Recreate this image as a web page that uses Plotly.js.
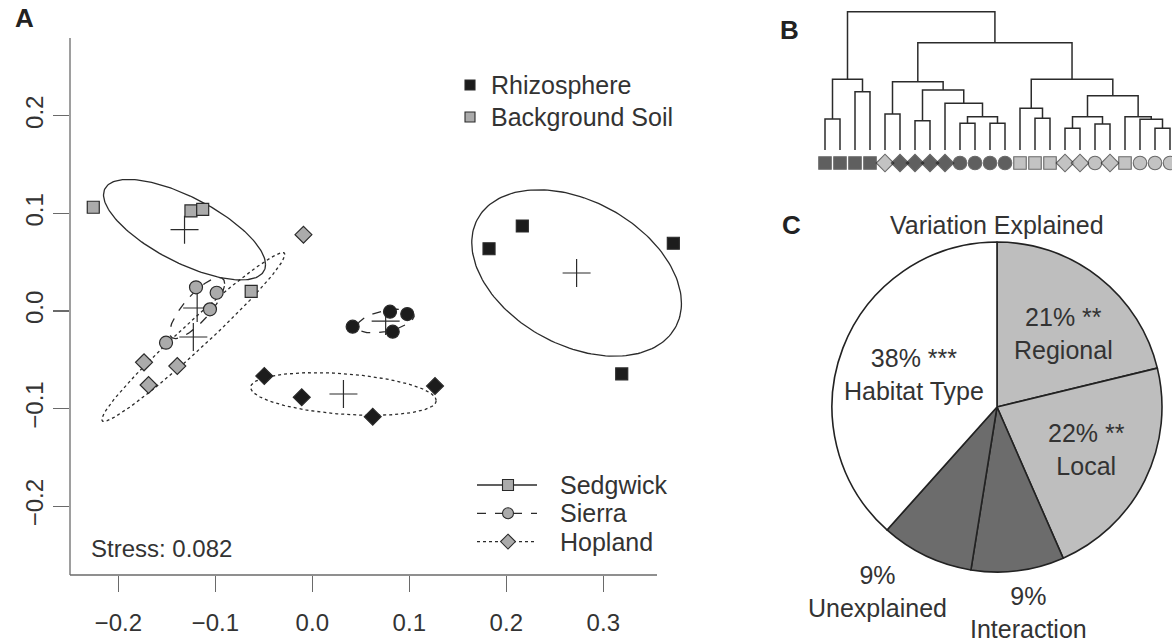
<!DOCTYPE html>
<html><head><meta charset="utf-8">
<script src="https://cdn.plot.ly/plotly-3.0.1.min.js"></script>
<style>html,body{margin:0;padding:0;background:#fff}#chart{width:1172px;height:641px}</style>
</head><body><div id="chart"></div>
<script>
// ---------- Panel A: NMDS ordination ----------
const siteNames = ["Sedgwick", "Sierra", "Hopland"];
const habitatNames = ["Rhizosphere", "Background Soil"];

const sedgwickRhizoX = [0.2165, 0.1822, 0.3722, 0.3190];
const sedgwickRhizoY = [0.0871, 0.0638, 0.0694, -0.0645];
const sierraRhizoX   = [0.0416, 0.0801, 0.0979, 0.0829];
const sierraRhizoY   = [-0.0161, -0.0007, -0.0031, -0.0212];
const hoplandRhizoX  = [-0.0495, -0.0109, 0.0623, 0.1265];
const hoplandRhizoY  = [-0.0666, -0.0884, -0.1083, -0.0768];
const sedgwickSoilX  = [-0.2258, -0.1251, -0.1130, -0.0630];
const sedgwickSoilY  = [0.1063, 0.1025, 0.1042, 0.0202];
const sierraSoilX    = [-0.1199, -0.0986, -0.1055, -0.1508];
const sierraSoilY    = [0.0243, 0.0187, 0.0017, -0.0325];
const hoplandSoilX   = [-0.0091, -0.1735, -0.1392, -0.1688];
const hoplandSoilY   = [0.0782, -0.0526, -0.0564, -0.0758];

const stressValue = 0.082;
const xTickVals = [-0.2, -0.1, 0.0, 0.1, 0.2, 0.3];
const yTickVals = [-0.2, -0.1, 0.0, 0.1, 0.2];

// ---------- Panel B: dendrogram (hclust-style merges) ----------
const leafSite = ["Sedgwick","Sedgwick","Sedgwick","Sedgwick","Hopland","Hopland","Hopland","Hopland","Hopland",
  "Sierra","Sierra","Sierra","Sierra","Sedgwick","Sedgwick","Sedgwick","Hopland","Hopland","Sierra","Hopland",
  "Sedgwick","Sierra","Sierra","Sierra"];
const leafHabitat = ["Rhizosphere","Rhizosphere","Rhizosphere","Rhizosphere","Background Soil",
  "Rhizosphere","Rhizosphere","Rhizosphere","Rhizosphere","Rhizosphere","Rhizosphere","Rhizosphere","Rhizosphere",
  "Background Soil","Background Soil","Background Soil","Background Soil","Background Soil","Background Soil",
  "Background Soil","Background Soil","Background Soil","Background Soil","Background Soil"];
const mergeLeft   = [-17, -23, -19, -10, -12, -7, -22, -1, -15, 4, 1, -21, -5, -14, -9, 11, -3, 6, 13, 8, 14, 19, 20];
const mergeRight  = [-18, -24, -20, -11, -13, -8, 2, -2, -16, 5, 3, 7, -6, 9, 10, 12, -4, 15, 18, 17, 16, 21, 22];
const mergeHeight = [0.217, 0.217, 0.26, 0.267, 0.267, 0.293, 0.307, 0.31, 0.317, 0.333, 0.333, 0.333, 0.36,
  0.417, 0.467, 0.543, 0.583, 0.60, 0.683, 0.707, 0.707, 1.073, 1.383];

// ---------- Panel C: variance partitioning ----------
const pieLabels = ["Regional", "Local", "Interaction", "Unexplained", "Habitat Type"];
const pieValues = [21, 22, 9, 9, 38];
const pieStars  = ["**", "**", "", "", "***"];

// ---------- styling ----------
const FONT = '"Liberation Sans", Arial, Helvetica, sans-serif';
const TXT = '#333333';
const LINE = '#2b2b2b';
const W = 1172, H = 641;
const px = v => v / W, py = v => 1 - v / H;
const fillFor = h => h === "Rhizosphere" ? '#1c1c1c' : '#ababab';
const symFor = s => ({Sedgwick: 'square', Sierra: 'circle', Hopland: 'diamond'})[s];
const sizeFor = s => ({Sedgwick: 12, Sierra: 13, Hopland: 13})[s];
const dashFor = s => ({Sedgwick: 'solid', Sierra: 'dash', Hopland: 'dot'})[s];

const groups = [
  {site: "Sedgwick", hab: "Rhizosphere", x: sedgwickRhizoX, y: sedgwickRhizoY},
  {site: "Sierra", hab: "Rhizosphere", x: sierraRhizoX, y: sierraRhizoY},
  {site: "Hopland", hab: "Rhizosphere", x: hoplandRhizoX, y: hoplandRhizoY},
  {site: "Sedgwick", hab: "Background Soil", x: sedgwickSoilX, y: sedgwickSoilY},
  {site: "Sierra", hab: "Background Soil", x: sierraSoilX, y: sierraSoilY},
  {site: "Hopland", hab: "Background Soil", x: hoplandSoilX, y: hoplandSoilY}
];

const mean = a => a.reduce((s, v) => s + v, 0) / a.length;
// 95% standard-error ellipse (as vegan::ordiellipse kind="se")
function seEllipse(xs, ys) {
  const n = xs.length, mx = mean(xs), my = mean(ys);
  let sxx = 0, syy = 0, sxy = 0;
  for (let i = 0; i < n; i++) {
    sxx += (xs[i] - mx) ** 2; syy += (ys[i] - my) ** 2; sxy += (xs[i] - mx) * (ys[i] - my);
  }
  sxx /= (n - 1) * n; syy /= (n - 1) * n; sxy /= (n - 1) * n;
  const scale = Math.sqrt(-2 * Math.log(0.05));
  const l11 = Math.sqrt(sxx), l21 = sxy / l11, l22 = Math.sqrt(Math.max(syy - l21 * l21, 0));
  const ex = [], ey = [];
  for (let k = 0; k <= 180; k++) {
    const t = 2 * Math.PI * k / 180, c = Math.cos(t), s = Math.sin(t);
    ex.push(mx + scale * l11 * c);
    ey.push(my + scale * (l21 * c + l22 * s));
  }
  return {ex, ey, mx, my};
}

const traces = [];
const cx = [], cy = [];
groups.forEach(g => {
  const e = seEllipse(g.x, g.y);
  cx.push(e.mx); cy.push(e.my);
  traces.push({type: 'scatter', mode: 'lines', x: e.ex, y: e.ey, xaxis: 'x', yaxis: 'y',
    line: {color: LINE, width: 1.3, dash: dashFor(g.site)}, showlegend: false, hoverinfo: 'skip'});
});
traces.push({type: 'scatter', mode: 'markers', x: cx, y: cy, xaxis: 'x', yaxis: 'y', showlegend: false,
  marker: {symbol: 'cross-thin', size: 20, color: LINE, line: {color: LINE, width: 1.2}}});
groups.forEach(g => {
  traces.push({type: 'scatter', mode: 'markers', x: g.x, y: g.y, xaxis: 'x', yaxis: 'y', showlegend: false,
    marker: {symbol: symFor(g.site), size: sizeFor(g.site), color: fillFor(g.hab), line: {color: '#2a2a2a', width: 1.2}}});
});

// dendrogram
(function () {
  const pos = [], ht = [], dx = [], dy = [];
  const cX = c => c < 0 ? -c : pos[c - 1];
  const cH = c => c < 0 ? 0 : ht[c - 1];
  for (let i = 0; i < mergeHeight.length; i++) {
    const L = mergeLeft[i], R = mergeRight[i], h = mergeHeight[i];
    const xl = cX(L), xr = cX(R);
    dx.push(xl, xl, xr, xr, null);
    dy.push(cH(L), h, h, cH(R), null);
    pos[i] = (xl + xr) / 2; ht[i] = h;
  }
  traces.push({type: 'scatter', mode: 'lines', x: dx, y: dy, xaxis: 'x2', yaxis: 'y2', showlegend: false,
    line: {color: LINE, width: 1.5}, hoverinfo: 'skip'});
  const lx = leafSite.map((_, i) => i + 1);
  traces.push({type: 'scatter', mode: 'markers', x: lx, y: lx.map(() => -0.13), xaxis: 'x2', yaxis: 'y2',
    showlegend: false,
    marker: {symbol: leafSite.map(symFor), size: leafSite.map(s => s === 'Sedgwick' ? 12.5 : 13.5),
      color: leafHabitat.map(fillFor), line: {color: '#2a2a2a', width: 1.1}}});
})();

// pie
traces.push({type: 'pie', labels: pieLabels, values: pieValues, sort: false, direction: 'clockwise', rotation: 0,
  textinfo: 'none', hoverinfo: 'label+percent', showlegend: false,
  marker: {colors: ['#bebebe', '#bebebe', '#6c6c6c', '#6c6c6c', '#ffffff'], line: {color: '#222', width: 1.6}},
  domain: {x: [px(832), px(1162)], y: [py(572), py(242)]}});

// axis geometry (pixel positions of the plot region and L-shaped box)
const xPix = [70, 700], yPix = [575, 38], boxRight = 657;
const xData = p => (p - 312.3) / 970, yData = p => (311 - p) / 976;

const pieLabelPos = [[1063, 333], [1086, 450], [1028, 612], [877, 591], [914, 374]];
const annotations = pieLabels.map((l, i) => ({
  xref: 'paper', yref: 'paper', x: px(pieLabelPos[i][0]), y: py(pieLabelPos[i][1]),
  xanchor: 'center', yanchor: 'middle', showarrow: false,
  text: pieValues[i] + '%' + (pieStars[i] ? ' ' + pieStars[i] : '') + '<br>' + l,
  font: {family: FONT, size: 25, color: TXT}
}));
annotations.push(
  {xref: 'paper', yref: 'paper', x: px(13), y: py(18), xanchor: 'left', yanchor: 'middle', showarrow: false,
    text: '<b>A</b>', font: {family: FONT, size: 26, color: '#222'}},
  {xref: 'paper', yref: 'paper', x: px(778), y: py(30), xanchor: 'left', yanchor: 'middle', showarrow: false,
    text: '<b>B</b>', font: {family: FONT, size: 26, color: '#222'}},
  {xref: 'paper', yref: 'paper', x: px(780), y: py(225), xanchor: 'left', yanchor: 'middle', showarrow: false,
    text: '<b>C</b>', font: {family: FONT, size: 26, color: '#222'}},
  {xref: 'paper', yref: 'paper', x: px(997), y: py(225), xanchor: 'center', yanchor: 'middle', showarrow: false,
    text: 'Variation Explained', font: {family: FONT, size: 25, color: TXT}},
  {xref: 'paper', yref: 'paper', x: px(89), y: py(548), xanchor: 'left', yanchor: 'middle', showarrow: false,
    text: 'Stress: ' + stressValue.toFixed(3), font: {family: FONT, size: 24, color: TXT}}
);

// legends drawn as layout glyphs + text
const shapes = [];
const BOXC = '#6a6a6a';
shapes.push({type: 'line', xref: 'paper', yref: 'paper', x0: px(xPix[0]), x1: px(xPix[0]), y0: py(yPix[0]), y1: py(yPix[1]),
  line: {color: BOXC, width: 1.3}});
shapes.push({type: 'line', xref: 'paper', yref: 'paper', x0: px(xPix[0]), x1: px(boxRight), y0: py(yPix[0]), y1: py(yPix[0]),
  line: {color: BOXC, width: 1.3}});

function glyph(sym, cxp, cyp, r, fill) {
  const common = {xref: 'paper', yref: 'paper', fillcolor: fill, line: {color: '#2a2a2a', width: 1.1}};
  if (sym === 'square') return Object.assign(common, {type: 'rect', x0: px(cxp - r), x1: px(cxp + r), y0: py(cyp + r), y1: py(cyp - r)});
  if (sym === 'circle') return Object.assign(common, {type: 'circle', x0: px(cxp - r), x1: px(cxp + r), y0: py(cyp + r), y1: py(cyp - r)});
  const d = r * 1.35;
  return Object.assign(common, {type: 'path',
    path: `M ${px(cxp)} ${py(cyp - d)} L ${px(cxp + d)} ${py(cyp)} L ${px(cxp)} ${py(cyp + d)} L ${px(cxp - d)} ${py(cyp)} Z`});
}
const leg1 = {mx: 470, tx: 489, y0: 85, dy: 32};
habitatNames.forEach((h, i) => {
  const y = leg1.y0 + i * leg1.dy;
  shapes.push(glyph('square', leg1.mx, y, 5, fillFor(h)));
  annotations.push({xref: 'paper', yref: 'paper', x: px(leg1.tx), y: py(y), xanchor: 'left', yanchor: 'middle',
    showarrow: false, text: h, font: {family: FONT, size: 25, color: TXT}});
});
const leg2 = {l0: 477, l1: 537, mx: 508, tx: 558, y0: 485, dy: 28.3};
siteNames.forEach((s, i) => {
  const y = leg2.y0 + i * leg2.dy;
  shapes.push({type: 'line', xref: 'paper', yref: 'paper', x0: px(leg2.l0), x1: px(leg2.l1), y0: py(y), y1: py(y),
    line: {color: LINE, width: 1.3, dash: dashFor(s)}});
  shapes.push(glyph(symFor(s), leg2.mx, y, 5.5, '#ababab'));
  annotations.push({xref: 'paper', yref: 'paper', x: px(leg2.tx), y: py(y), xanchor: 'left', yanchor: 'middle',
    showarrow: false, text: s, font: {family: FONT, size: 25, color: TXT}});
});

const axisCommon = {showgrid: false, zeroline: false, showline: false,
  ticks: 'outside', ticklen: 16, tickwidth: 1.3, tickcolor: BOXC, tickformat: '.1f',
  tickfont: {family: FONT, size: 24, color: TXT}, tickmode: 'array', fixedrange: true};

const layout = {
  width: W, height: H, margin: {l: 0, r: 0, t: 0, b: 0}, paper_bgcolor: '#fff', plot_bgcolor: 'rgba(0,0,0,0)',
  font: {family: FONT, color: TXT}, showlegend: false,
  xaxis: Object.assign({}, axisCommon, {domain: [px(xPix[0]), px(xPix[1])], range: [xData(xPix[0]), xData(xPix[1])],
    tickvals: xTickVals, anchor: 'y', ticklabelstandoff: 10}),
  yaxis: Object.assign({}, axisCommon, {domain: [py(yPix[0]), py(yPix[1])], range: [yData(yPix[0]), yData(yPix[1])],
    tickvals: yTickVals, anchor: 'x', tickangle: -90, ticklabelstandoff: 0}),
  xaxis2: {domain: [px(817.5), 1], range: [0.5, 0.5 + 354.5 / 15], visible: false, fixedrange: true, anchor: 'y2'},
  yaxis2: {domain: [py(175), py(2)], range: [-0.25, 1.48], visible: false, fixedrange: true, anchor: 'x2'},
  annotations: annotations,
  shapes: shapes
};

Plotly.newPlot('chart', traces, layout, {staticPlot: true, displayModeBar: false});
</script>
</body></html>
